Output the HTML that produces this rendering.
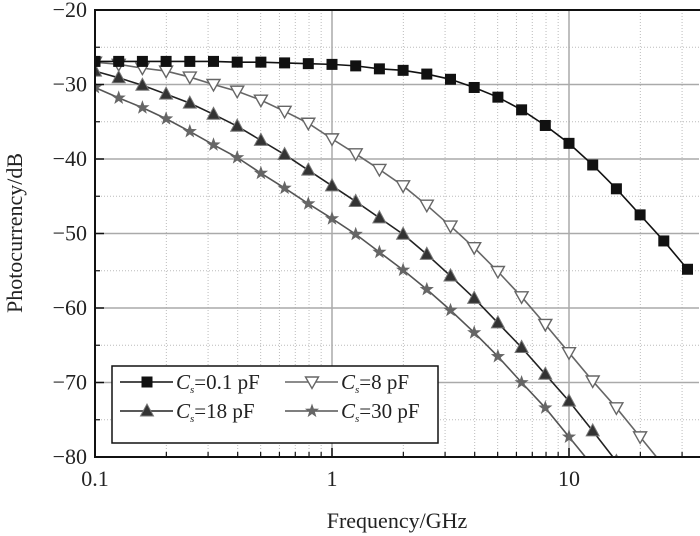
<!DOCTYPE html>
<html><head><meta charset="utf-8"><style>
body{margin:0;background:#fff}
svg{display:block;font-family:"Liberation Serif",serif}
</style></head><body>
<svg id="chart" width="700" height="536" viewBox="0 0 700 536" xmlns="http://www.w3.org/2000/svg">
<g id="grid"></g>
<g id="series"></g>
<g id="axes"></g>
<text transform="translate(22,233) rotate(-90)" text-anchor="middle" font-size="22" fill="#222">Photocurrency/dB</text>
<text x="397" y="528" text-anchor="middle" font-size="22" fill="#222">Frequency/GHz</text>
<g>
<rect x="112" y="366" width="326" height="77" fill="#fff" stroke="#111" stroke-width="1.5"/>
<g id="legend-items"></g>
</g>
</svg>
<script>
const xLogStart = -1, xLogStep = 0.1;
const cs01 = [-26.9,-26.9,-26.9,-26.9,-26.9,-26.9,-27.0,-27.0,-27.1,-27.2,-27.3,-27.5,-27.9,-28.1,-28.6,-29.3,-30.4,-31.7,-33.4,-35.5,-37.9,-40.8,-44.0,-47.5,-51.0,-54.8];
const cs8 = [-27.0,-27.3,-27.8,-28.2,-29.0,-30.0,-30.9,-32.1,-33.6,-35.2,-37.3,-39.3,-41.4,-43.6,-46.2,-49.0,-51.9,-55.1,-58.5,-62.2,-66.0,-69.8,-73.4,-77.3,-81.2];
const cs18 = [-28.2,-29.1,-30.1,-31.3,-32.5,-34.0,-35.6,-37.5,-39.4,-41.5,-43.6,-45.7,-47.9,-50.1,-52.8,-55.7,-58.7,-62.0,-65.3,-68.9,-72.5,-76.5,-80.6];
const cs30 = [-30.4,-31.8,-33.1,-34.6,-36.3,-38.1,-39.8,-41.9,-43.9,-46.0,-48.0,-50.1,-52.5,-54.9,-57.5,-60.3,-63.3,-66.5,-70.0,-73.4,-77.3,-81.2];
const xTickLabels = ["0.1","1","10"];
const yTickLabels = ["-20","-30","-40","-50","-60","-70","-80"];

const L=95,R=699,T=10,B=457,DEC=237;
const X=lg=>L+(lg+1)*DEC;
const Y=v=>T+(-20-v)/60*(B-T);
const NS="http://www.w3.org/2000/svg";
function mk(tag,attrs,parent){const e=document.createElementNS(NS,tag);for(const k in attrs)e.setAttribute(k,attrs[k]);parent.appendChild(e);return e;}
const grid=document.getElementById('grid'),axes=document.getElementById('axes'),ser=document.getElementById('series');

for(let d=-1;d<=1;d++){for(let m=2;m<=9;m++){const lg=d+Math.log10(m);if(X(lg)>R)continue;
const ln=mk('line',{x1:X(lg),x2:X(lg),y1:T,y2:B,stroke:'#bbb','stroke-width':1,'stroke-dasharray':'1,2'},grid);


mk('line',{x1:X(lg),x2:X(lg),y1:B,y2:B-5,stroke:'#111','stroke-width':1.2},axes);}}
for(let v=-25;v>-80;v-=10){
const ln=mk('line',{x1:L,x2:R,y1:Y(v),y2:Y(v),stroke:'#bbb','stroke-width':1,'stroke-dasharray':'1,2'},grid);


mk('line',{x1:L,x2:L+5,y1:Y(v),y2:Y(v),stroke:'#111','stroke-width':1.2},axes);}
yTickLabels.forEach(s=>{const v=parseFloat(s);
if(v<-20&&v>-80){const ln=mk('line',{x1:L,x2:R,y1:Y(v),y2:Y(v),stroke:'#aaa','stroke-width':1.5},grid);

}
mk('line',{x1:L,x2:L+9,y1:Y(v),y2:Y(v),stroke:'#111','stroke-width':1.5},axes);
const t=mk('text',{x:L-8,y:Y(v)+7,'text-anchor':'end','font-size':22,fill:'#222'},axes);t.textContent=s.replace('-','\u2212');

});
xTickLabels.forEach(s=>{const lg=Math.log10(parseFloat(s));
if(lg>-1){const ln=mk('line',{x1:X(lg),x2:X(lg),y1:T,y2:B,stroke:'#aaa','stroke-width':1.5},grid);

}
mk('line',{x1:X(lg),x2:X(lg),y1:B,y2:B-9,stroke:'#111','stroke-width':1.5},axes);
const t=mk('text',{x:X(lg),y:B+29,'text-anchor':'middle','font-size':22,fill:'#222'},axes);t.textContent=s;

});
const fr=mk('rect',{x:L,y:T,width:R-L+3,height:B-T,fill:'none',stroke:'#111','stroke-width':2},axes);



function marker(type,x,y,par,col){
if(type==='sq')return mk('rect',{x:x-5.5,y:y-5.5,width:11,height:11,fill:'#111'},par);
if(type==='dn')return mk('polygon',{points:`${x-6.5},${y-5} ${x+6.5},${y-5} ${x},${y+6.5}`,fill:'#fff',stroke:col,'stroke-width':1.4},par);
if(type==='up')return mk('polygon',{points:`${x-6.5},${y+5} ${x+6.5},${y+5} ${x},${y-7}`,fill:'#333',stroke:'#777','stroke-width':1},par);
let p=[];for(let i=0;i<10;i++){const r=i%2?3:7.5,a=-Math.PI/2+i*Math.PI/5;p.push((x+r*Math.cos(a)).toFixed(1)+','+(y+r*Math.sin(a)).toFixed(1));}
return mk('polygon',{points:p.join(' '),fill:'#666'},par);}

const defs=mk('defs',{},document.getElementById('chart'));
const cp=mk('clipPath',{id:'clip'},defs);mk('rect',{x:L,y:T,width:R-L+10,height:B-T},cp);
function series(data,type,col,name){
const g=mk('g',{'clip-path':'url(#clip)'},ser);


const pts=data.map((v,i)=>[X(xLogStart+i*xLogStep),Y(v)]);
mk('polyline',{points:pts.map(p=>p.join(',')).join(' '),fill:'none',stroke:col,'stroke-width':1.6},g);
pts.forEach(p=>{const m=marker(type,p[0],p[1],g,col);

});}
series(cs8,'dn','#666','series-cs-8pf');
series(cs30,'st','#555','series-cs-30pf');
series(cs18,'up','#222','series-cs-18pf');
series(cs01,'sq','#111','series-cs-0.1pf');

const li=document.getElementById('legend-items');
[[120,382,'sq','#111','0.1 pF'],[285,382,'dn','#666','8 pF'],[120,411,'up','#222','18 pF'],[285,411,'st','#555','30 pF']].forEach(e=>{
const g=mk('g',{},li);


mk('line',{x1:e[0],x2:e[0]+53,y1:e[1],y2:e[1],stroke:e[3],'stroke-width':1.6},g);
marker(e[2],e[0]+27,e[1],g,e[3]);
const t=mk('text',{x:e[0]+56,y:e[1]+7,'font-size':21,fill:'#222'},g);
t.innerHTML='<tspan font-style="italic">C</tspan><tspan font-style="italic" font-size="11" dy="4">s</tspan><tspan dy="-4">='+e[4]+'</tspan>';});
</script>
</body></html>
